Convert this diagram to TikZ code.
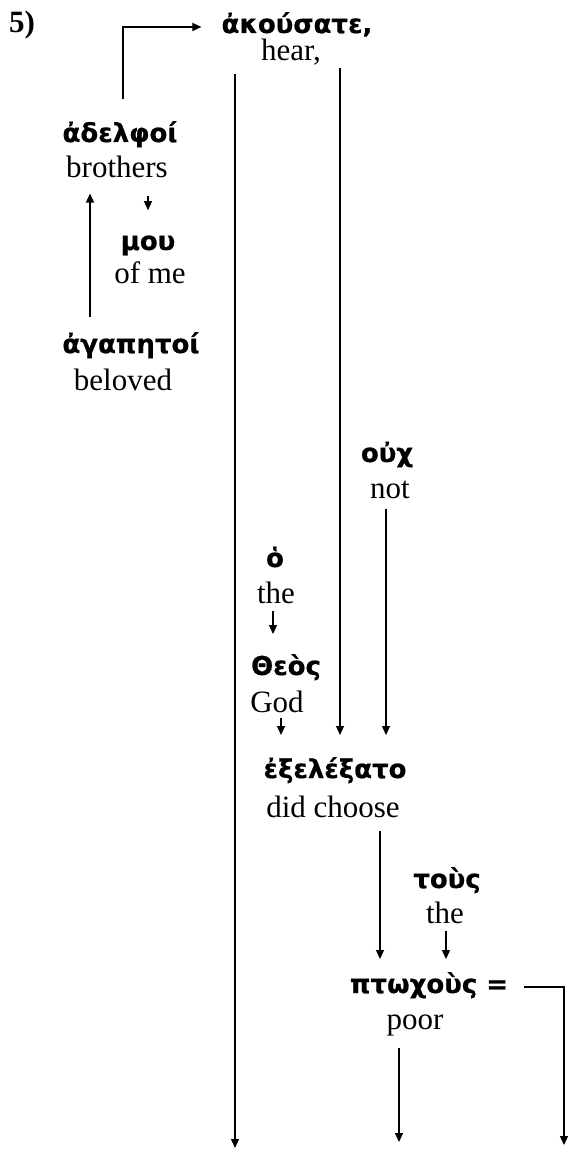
\documentclass[tikz,border=0pt]{standalone}
\usepackage{fontspec}
\setmainfont{Liberation Serif}
\newfontfamily\grkfont[Script=Greek,BoldFeatures={FakeBold=0.5}]{DejaVu Sans}
\usepackage{tikz}
\usetikzlibrary{positioning,arrows.meta}

\begin{document}
\begin{tikzpicture}[
  x=1pt, y=-1pt,
  gr/.style={font=\grkfont\bfseries\fontsize{26}{30}\selectfont, inner sep=0pt, anchor=base},
  gl/.style={font=\fontsize{31}{36}\selectfont, inner sep=0pt, anchor=base},
  arr/.style={-{Triangle[length=9pt,width=8pt]}, line width=1.2pt}]
\useasboundingbox (0,0) rectangle (567,1150);
\node[gl, font=\bfseries\fontsize{31}{36}\selectfont] (num) at (22,33) {5)};

\node[gr] (akousate) at (297,33) {ἀκούσατε,};
\node[gl] (hear) at (291,61) {hear,};
\node[gr] (adelphoi) at (120,142) {ἀδελφοί};
\node[gl] (brothers) at (117,178) {brothers};
\node[gr] (mou) at (148,250) {μου};
\node[gl] (ofme) at (150,283) {of me};
\node[gr] (agapetoi) at (131,353) {ἀγαπητοί};
\node[gl] (beloved) at (123,390) {beloved};
\node[gr] (ouch) at (387,462) {οὐχ};
\node[gl] (nt) at (390,498) {not};
\node[gr] (ho) at (275,567) {ὁ};
\node[gl] (the) at (276,603) {the};
\node[gr] (theos) at (286,675) {Θεὸς};
\node[gl] (god) at (277,712) {God};
\node[gr] (exel) at (335,778) {ἐξελέξατο};
\node[gl] (choose) at (333,817) {did choose};
\node[gr] (tous) at (447,888) {τοὺς};
\node[gl] (theB) at (445,923) {the};
\node[gr] (ptochous) at (429,993) {πτωχοὺς =};
\node[gl] (poor) at (415,1029) {poor};

\coordinate (endA) at (235,1148);
\coordinate (endB) at (399,1142);
\coordinate (endC) at (564,1145);

% vocative and its modifiers
\draw[arr] ([xshift=3pt,yshift=22pt]adelphoi.north) |- ([xshift=-20pt,yshift=6pt]akousate.base west);
\draw[arr,shorten <=17pt,shorten >=25pt] (148,0 |- brothers.south) -- (148,0 |- mou.north);
\draw[arr,shorten <=15pt,shorten >=15pt] (90,0 |- agapetoi.north) -- (90,0 |- brothers.south);

% main verb
\draw[arr,shorten <=8pt] (235,0 |- hear.south) -- (endA);
\draw[arr,shorten <=2pt,shorten >=22pt] (340,0 |- hear.south) -- (340,0 |- exel.north);

% subject, negation
\draw[arr,shorten <=10pt,shorten >=22pt] (386,0 |- nt.south) -- (386,0 |- exel.north);
\draw[arr,shorten <=7pt,shorten >=20pt] (273,0 |- the.south) -- (273,0 |- theos.north);
\draw[arr,shorten <=5pt,shorten >=22pt] (281,0 |- god.south) -- (281,0 |- exel.north);

% object
\draw[arr,shorten <=13pt,shorten >=13pt] (380,0 |- choose.south) -- (380,0 |- ptochous.north);
\draw[arr,shorten <=7pt,shorten >=13pt] (446,0 |- theB.south) -- (446,0 |- ptochous.north);
\draw[arr,shorten <=12pt] (399,0 |- poor.south) -- (endB);
\draw[arr] ([xshift=16pt,yshift=6pt]ptochous.base east) -| (endC);
\end{tikzpicture}
\end{document}
